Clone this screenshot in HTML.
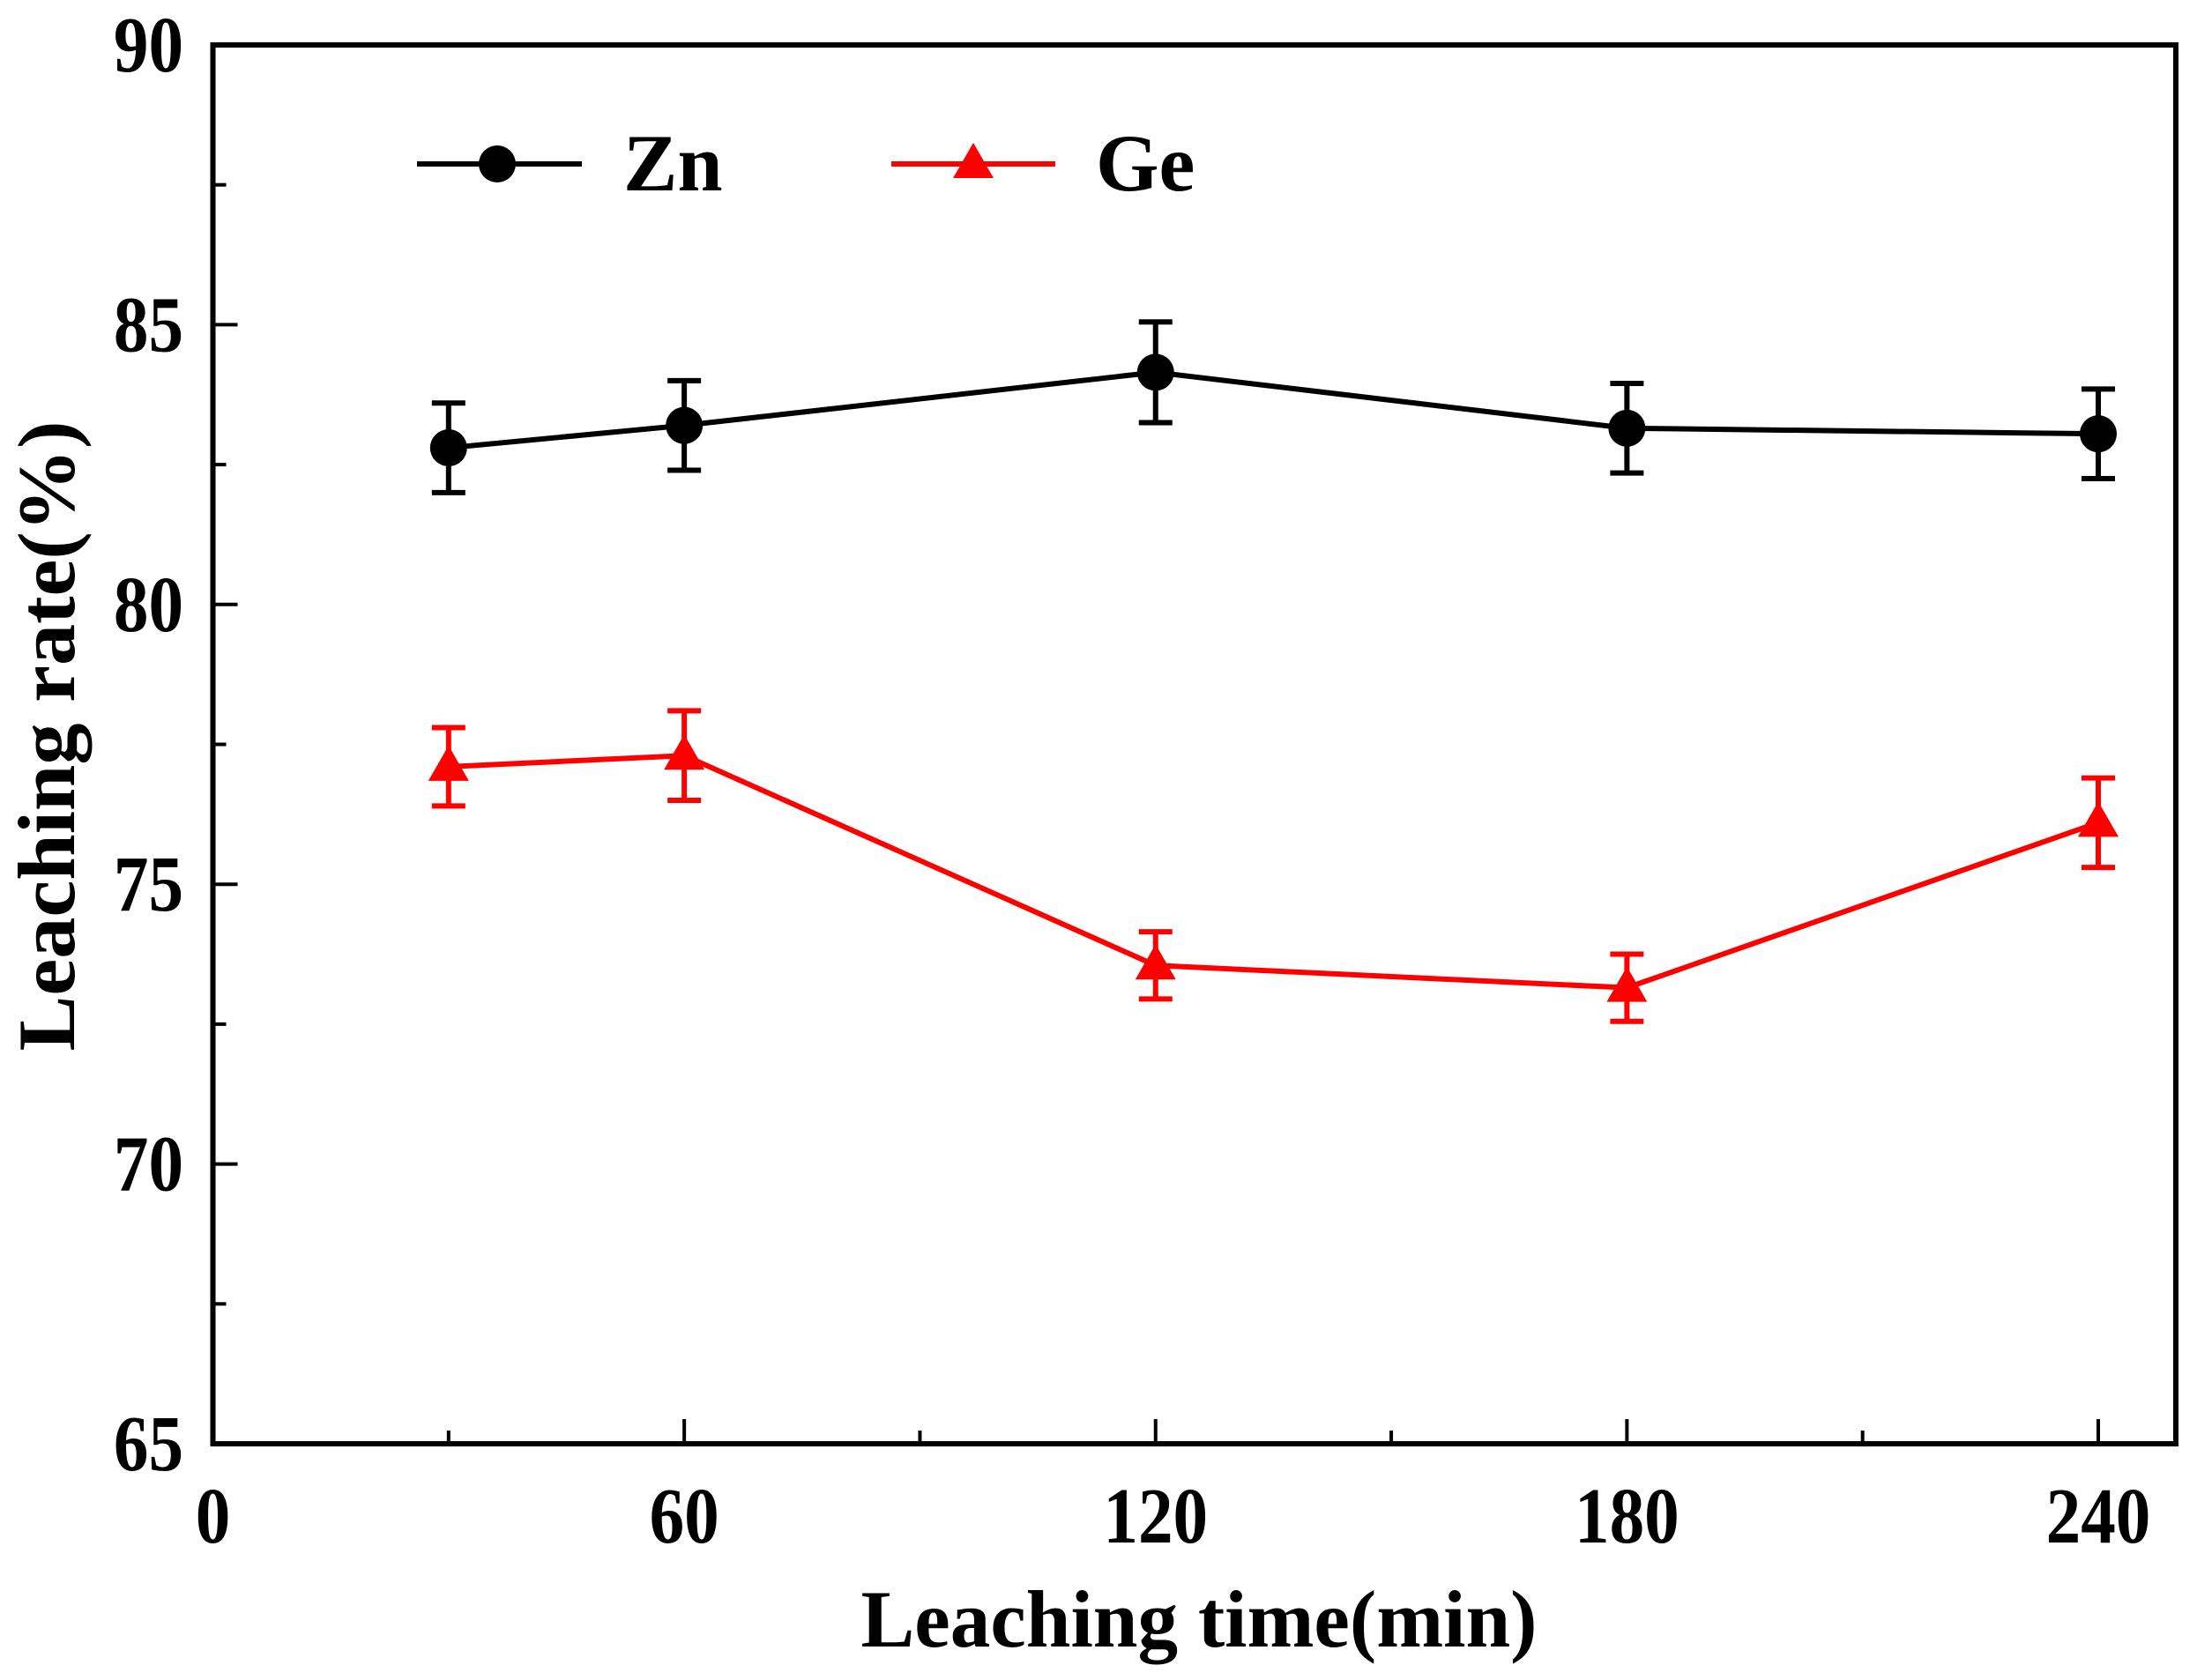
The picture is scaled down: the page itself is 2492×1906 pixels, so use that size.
<!DOCTYPE html>
<html><head><meta charset="utf-8"><style>
html,body{margin:0;padding:0;background:#fff;}
svg{display:block;}
text{font-family:"Liberation Serif",serif;font-weight:bold;fill:#000;}
</style></head><body>
<svg id="chart" width="2492" height="1906" viewBox="0 0 2492 1906" xmlns="http://www.w3.org/2000/svg">
<g id="plot"></g>
</svg>
<script>
const times = [30, 60, 120, 180, 240];
const znValues = [82.8, 83.2, 84.15, 83.15, 83.05];
const znErrors = [0.8, 0.8, 0.9, 0.8, 0.8];
const geValues = [77.1, 77.3, 73.55, 73.15, 76.1];
const geErrors = [0.7, 0.8, 0.6, 0.6, 0.8];
const xTicks = [0, 60, 120, 180, 240];
const xTickLabels = ["0", "60", "120", "180", "240"];
const xMinorTicks = [30, 90, 150, 210];
const yTicks = [65, 70, 75, 80, 85, 90];
const yTickLabels = ["65", "70", "75", "80", "85", "90"];
const yMinorTicks = [67.5, 72.5, 77.5, 82.5, 87.5];

const L = 241.5, R = 2468, T = 51, B = 1638;
const X0 = 241.5, X240 = 2380;
function xs(v){ return X0 + (v - 0) * (X240 - X0) / 240; }
function ys(v){ return B - (v - 65) * (B - T) / 25; }

const NS = "http://www.w3.org/2000/svg";
const g = document.getElementById("plot");
function mk(tag, attrs, parent){
  const e = document.createElementNS(NS, tag);
  for (const k in attrs) e.setAttribute(k, attrs[k]);
  (parent || g).appendChild(e);
  return e;
}

const frame = mk("rect", {x:L, y:T, width:R-L, height:B-T, fill:"none", stroke:"#000", "stroke-width":6});



xTicks.forEach((t, i) => {
  const x = xs(t);
  if (t > 0) {
    const tk = mk("line", {x1:x, x2:x, y1:B, y2:B-28, stroke:"#000", "stroke-width":4});
    
    
  }
  const lb = mk("text", {x:0, y:0, "text-anchor":"middle", "font-size":86, transform:`translate(${x},1750) scale(0.92,1.05)`});
  lb.textContent = xTickLabels[i];
  
  
});
xMinorTicks.forEach(t => {
  const x = xs(t);
  const tk = mk("line", {x1:x, x2:x, y1:B, y2:B-15, stroke:"#000", "stroke-width":4});
  
  
});
yTicks.forEach((t, i) => {
  const y = ys(t);
  if (t > 65 && t < 90) {
    const tk = mk("line", {x1:L, x2:L+28, y1:y, y2:y, stroke:"#000", "stroke-width":4});
    
    
  }
  const lb = mk("text", {x:0, y:0, "text-anchor":"end", "font-size":86, transform:`translate(208,${y+30}) scale(0.92,1.05)`});
  lb.textContent = yTickLabels[i];
  
  
});
yMinorTicks.forEach(t => {
  const y = ys(t);
  const tk = mk("line", {x1:L, x2:L+15, y1:y, y2:y, stroke:"#000", "stroke-width":4});
  
  
});

const xt = mk("text", {x:1360, y:1868, "text-anchor":"middle", "font-size":92, textLength:767, lengthAdjust:"spacingAndGlyphs"});
xt.textContent = "Leaching time(min)";


const yt = mk("text", {x:0, y:0, "text-anchor":"middle", "font-size":92, textLength:715, lengthAdjust:"spacingAndGlyphs", transform:"translate(84,835) rotate(-90)"});
yt.textContent = "Leaching rate(%)";



function drawSeries(vals, errs, color, marker, name){
  const pts = vals.map((v, i) => xs(times[i]) + "," + ys(v)).join(" ");
  const line = mk("polyline", {points:pts, fill:"none", stroke:color, "stroke-width":6});
  
  
  vals.forEach((v, i) => {
    const x = xs(times[i]), y1 = ys(v + errs[i]), y2 = ys(v - errs[i]);
    const eb = mk("path", {d:`M${x},${y1}V${y2}M${x-19},${y1}H${x+19}M${x-19},${y2}H${x+19}`, stroke:color, "stroke-width":6, fill:"none"});
    
    
    drawMarker(x, ys(v), color, marker, name + '-point');
  });
}
function drawMarker(x, y, color, marker, nm){
  let m;
  if (marker === "circle") m = mk("circle", {cx:x, cy:y, r:21, fill:color});
  else m = mk("polygon", {points:`${x},${y-24} ${x+23},${y+16} ${x-23},${y+16}`, fill:color});
  
  
}
drawSeries(znValues, znErrors, "#000", "circle", "zn");
drawSeries(geValues, geErrors, "#ff0000", "triangle", "ge");

const lz = mk("line", {x1:473, x2:660, y1:186, y2:186, stroke:"#000", "stroke-width":6});


drawMarker(564, 186, "#000", "circle", "legend-zn-marker");
const tz = mk("text", {x:707, y:216, "font-size":92});
tz.textContent = "Zn";


const lg = mk("line", {x1:1011, x2:1197, y1:186, y2:186, stroke:"#ff0000", "stroke-width":6});


drawMarker(1104, 186, "#ff0000", "triangle", "legend-ge-marker");
const tg = mk("text", {x:1243, y:216, "font-size":92});
tg.textContent = "Ge";


</script>
</body></html>
